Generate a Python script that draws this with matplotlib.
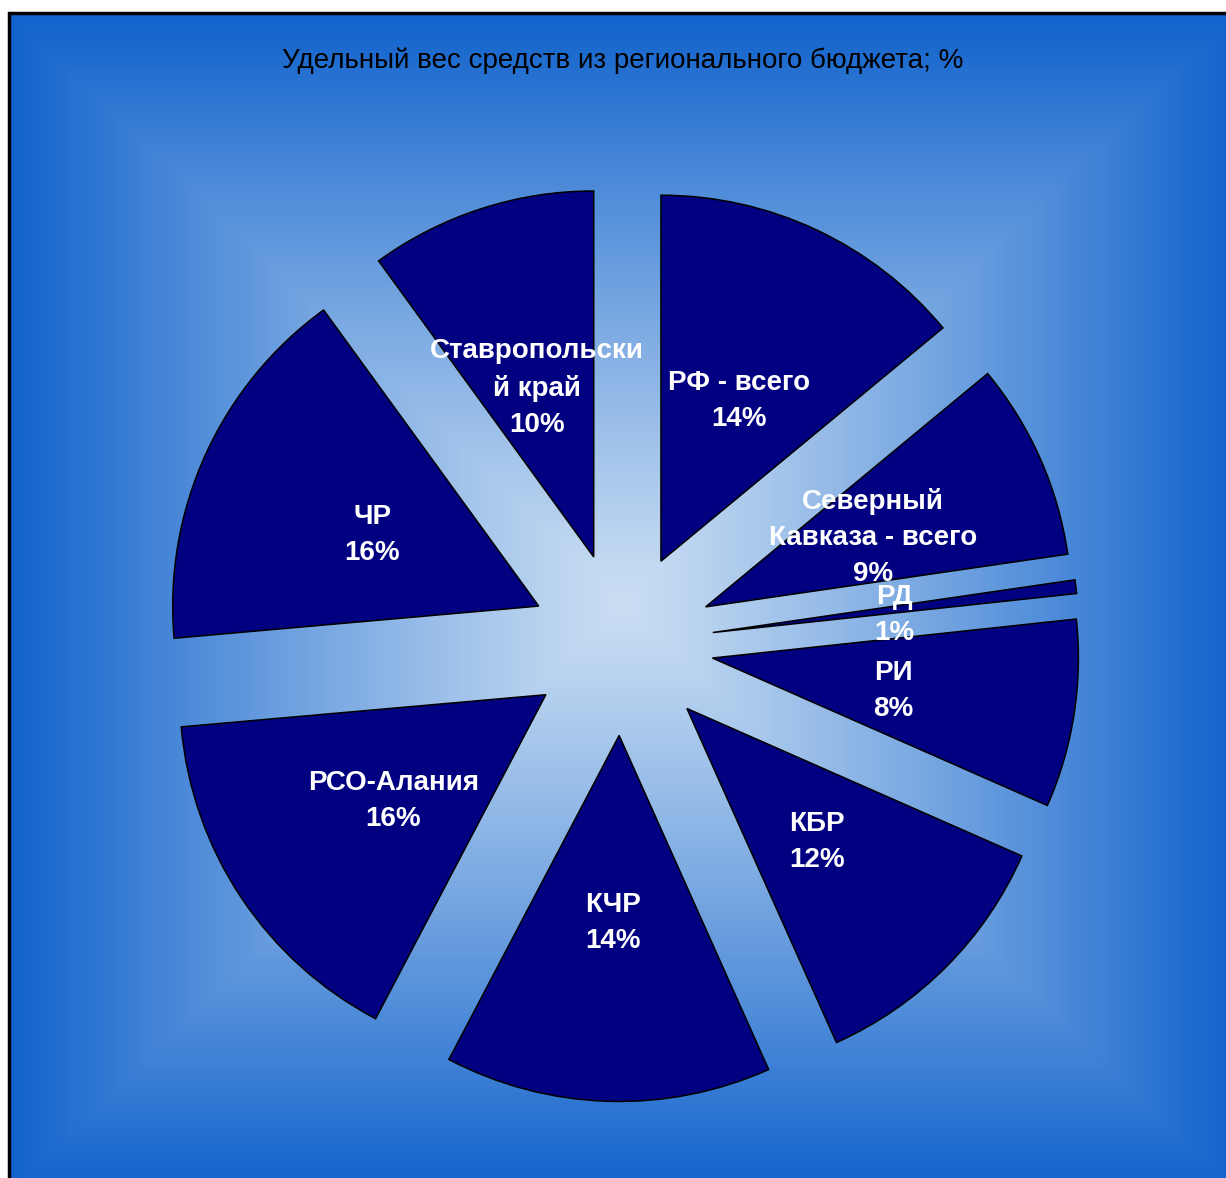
import numpy as np
import matplotlib.pyplot as plt
from matplotlib.patches import Rectangle

plt.rcParams['font.family'] = ['Liberation Sans', 'DejaVu Sans']

# Data (percent of regional budget funds)
regions = ['РФ - всего', 'Северный\nКавказа - всего', 'РД', 'РИ', 'КБР',
           'КЧР', 'РСО-Алания', 'ЧР', 'Ставропольски\nй край']
shares = [14.0, 8.7, 0.6, 8.3, 11.7, 14.4, 15.9, 16.4, 10.0]
title = 'Удельный вес средств из регионального бюджета; %'

W, H = 1226, 1178
fig = plt.figure(figsize=(W / 100, H / 100), dpi=100)
fig.patch.set_facecolor('white')

# pie centre and radius in pixels
cx, cy, rad = 622, 644, 366
ax = fig.add_axes([0, 0, 1, 1])

# background: rectangular "from centre" gradient
bx0, bx1, by0, by1 = 9, 1238, 13, 1192
gx = np.linspace(-1, 1, 600)
gy = np.linspace(-1, 1, 600)
GX, GY = np.meshgrid(gx, gy)
t = np.maximum(np.abs(GX), np.abs(GY)) ** 1.15
c_in = np.array([202, 222, 243]) / 255
c_out = np.array([16, 98, 204]) / 255
img = c_in[None, None, :] * (1 - t[..., None]) + c_out[None, None, :] * t[..., None]
ext = [(bx0 - cx) / rad, (bx1 - cx) / rad, (cy - by1) / rad, (cy - by0) / rad]
ax.imshow(img, extent=ext, origin='lower', zorder=0, interpolation='bilinear')
ax.add_patch(Rectangle((ext[0], ext[2]), ext[1] - ext[0], ext[3] - ext[2],
                       fill=False, edgecolor='black', linewidth=2.5, zorder=1))

name_iter = iter(regions)


def fmt(pct):
    return f'{next(name_iter)}\n{pct:.0f}%'


wedges, texts, autotexts = ax.pie(
    shares, explode=[0.25] * len(shares), startangle=90, counterclock=False,
    colors=['#000080'] * len(shares), autopct=fmt, pctdistance=0.5, radius=1.0,
    wedgeprops=dict(edgecolor='black', linewidth=1.1),
    textprops=dict(color='white', fontsize=20, fontweight='bold',
                   linespacing=1.5))
for w in wedges:
    w.set_zorder(2)

# labels sit a few pixels lower in the original
for txt in autotexts:
    x, y = txt.get_position()
    txt.set_position((x, y - 5 / rad))

ax.set_xlim(-cx / rad, (W - cx) / rad)
ax.set_ylim(-(H - cy) / rad, cy / rad)
ax.set_aspect('auto')
ax.axis('off')

fig.text(623 / W, 1 - 61 / H, title, ha='center', va='center',
         fontsize=20, color='black')

fig.savefig('out.png', dpi=100)
